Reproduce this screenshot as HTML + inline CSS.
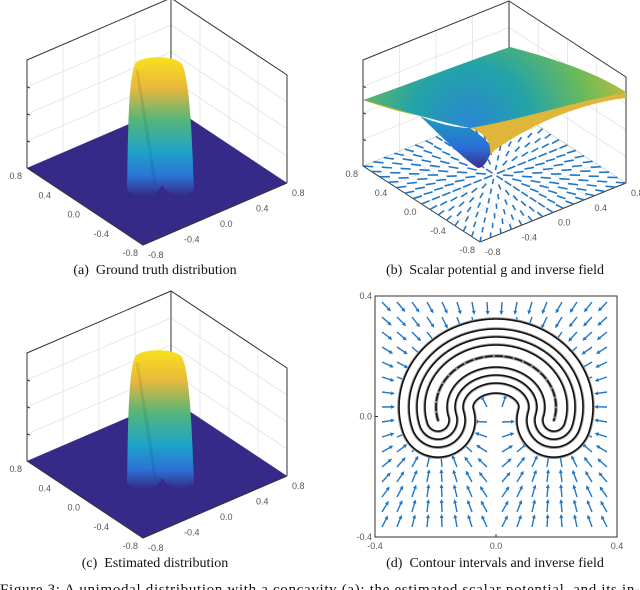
<!DOCTYPE html>
<html><head><meta charset="utf-8"><style>
body{margin:0;background:#fff;width:640px;height:590px;overflow:hidden}
svg{display:block}
.tk{font:9px "Liberation Sans",sans-serif;fill:#555}
.cap{font:14px "Liberation Serif",serif;fill:#111}
</style></head><body>
<svg id="fig" width="640" height="590">
<defs>
<linearGradient id="peak" x1="0" y1="0" x2="0" y2="1">
<stop offset="0" stop-color="#f8e11c"/><stop offset="0.22" stop-color="#e9b83c"/>
<stop offset="0.45" stop-color="#55b67a"/><stop offset="0.68" stop-color="#1ea4c8"/>
<stop offset="0.86" stop-color="#2b73d6"/><stop offset="1" stop-color="#352a87"/></linearGradient>
<radialGradient id="sheet" cx="470" cy="125" r="170" gradientUnits="userSpaceOnUse">
<stop offset="0" stop-color="#2b86d4"/><stop offset="0.35" stop-color="#22a3a8"/>
<stop offset="0.7" stop-color="#6cba5a"/><stop offset="1" stop-color="#c9bf3a"/></radialGradient>
<linearGradient id="cone" x1="0" y1="0" x2="0" y2="1">
<stop offset="0" stop-color="#1d9dbf"/><stop offset="0.6" stop-color="#2a6fd6"/><stop offset="1" stop-color="#3b2e8e"/></linearGradient>
<clipPath id="dclip"><rect x="375" y="296" width="242" height="241"/></clipPath>
</defs>
<g id="pa"></g>
<g id="pb"></g>
<g id="pc"></g>
<g id="pd"></g>
<text class="cap" x="155" y="274" text-anchor="middle" xml:space="preserve">(a)  Ground truth distribution</text>
<text class="cap" x="495" y="274" text-anchor="middle" xml:space="preserve">(b)  Scalar potential g and inverse field</text>
<text class="cap" x="155" y="567" text-anchor="middle" xml:space="preserve">(c)  Estimated distribution</text>
<text class="cap" x="495" y="567" text-anchor="middle" xml:space="preserve">(d)  Contour intervals and inverse field</text>
<text x="0" y="594" textLength="640" lengthAdjust="spacing" style="font:15px 'Liberation Serif',serif;fill:#111">Figure 3:  A unimodal distribution with a concavity (a); the estimated scalar potential, and its in-</text>
</svg>
<script>
const NS="http://www.w3.org/2000/svg";
const xTickLabels=["-0.8","-0.4","0.0","0.4","0.8"];
const dTickLabels=["-0.4","0.0","0.4"];
const contourLevels=[37,27,19,11];
const horseshoe={cx:496,cy:407,rx:60,ry:51,t0:195,t1:-15};
function el(tag,attrs,parent){const e=document.createElementNS(NS,tag);for(const k in attrs)e.setAttribute(k,attrs[k]);parent.appendChild(e);return e;}
function box3d(g,o){
 const F=o.front,R=o.right,L=o.left,B=[L[0]+R[0]-F[0],L[1]+R[1]-F[1]],H=o.h;
 for(let i=0;i<=4;i++){const f=i/4;
  const p=[L[0]+(B[0]-L[0])*f,L[1]+(B[1]-L[1])*f],q=[B[0]+(R[0]-B[0])*f,B[1]+(R[1]-B[1])*f];
  el("line",{x1:p[0],y1:p[1],x2:p[0],y2:p[1]-H,stroke:"#e3e3e3","stroke-width":0.8},g);
  el("line",{x1:q[0],y1:q[1],x2:q[0],y2:q[1]-H,stroke:"#e3e3e3","stroke-width":0.8},g);
  const z=H*f;
  el("polyline",{points:`${L[0]},${L[1]-z} ${B[0]},${B[1]-z} ${R[0]},${R[1]-z}`,fill:"none",stroke:"#e3e3e3","stroke-width":0.8},g);
 }
 el("polyline",{points:`${L[0]},${L[1]} ${L[0]},${L[1]-H} ${B[0]},${B[1]-H} ${R[0]},${R[1]-H} ${R[0]},${R[1]}`,fill:"none",stroke:"#333","stroke-width":1},g);
 el("line",{x1:B[0],y1:B[1]-H,x2:B[0],y2:B[1],stroke:"#333","stroke-width":1},g);
 for(let i=0;i<4;i++)el("line",{x1:L[0],y1:L[1]-H*i/4,x2:L[0]+3,y2:L[1]-H*i/4+1,stroke:"#333"},g);
 if(o.floor){const fl=el("polygon",{points:`${F} ${R} ${B} ${L}`,fill:o.floor},g);}
 else{
  el("polygon",{points:`${F} ${R} ${B} ${L}`,fill:"none",stroke:"#aaa","stroke-width":0.6,"stroke-dasharray":"1.5 1.5"},g);
  for(let i=1;i<4;i++){const f=i/4;
   el("line",{x1:F[0]+(R[0]-F[0])*f,y1:F[1]+(R[1]-F[1])*f,x2:L[0]+(R[0]-F[0])*f,y2:L[1]+(R[1]-F[1])*f,stroke:"#bbb","stroke-width":0.6,"stroke-dasharray":"1.5 1.5"},g);
   el("line",{x1:F[0]+(L[0]-F[0])*f,y1:F[1]+(L[1]-F[1])*f,x2:R[0]+(L[0]-F[0])*f,y2:R[1]+(L[1]-F[1])*f,stroke:"#bbb","stroke-width":0.6,"stroke-dasharray":"1.5 1.5"},g);
  }
 }
 el("polyline",{points:`${L} ${F} ${R}`,fill:"none",stroke:"#333","stroke-width":1},g);
 xTickLabels.forEach((t,i)=>{const f=i/4;
  const a=[F[0]+(L[0]-F[0])*f,F[1]+(L[1]-F[1])*f];
  const tx=el("text",{class:"tk",x:a[0]-5,y:a[1]+11,"text-anchor":"end"},g);tx.textContent=t;
  
  const b=[F[0]+(R[0]-F[0])*f,F[1]+(R[1]-F[1])*f];
  const ty=el("text",{class:"tk",x:b[0]+5,y:b[1]+13},g);ty.textContent=t;
  
 });
 return {F,R,L,B};
}
function peak(g,dy){
 const p=el("path",{d:`M127 ${190+dy} C128 ${140+dy} 128 ${80+dy} 135 ${64+dy} C140 ${55+dy} 175 ${55+dy} 182 ${64+dy} C190 ${80+dy} 192 ${140+dy} 194 ${190+dy} C185 ${198+dy} 170 ${198+dy} 162 ${185+dy} C158 ${196+dy} 140 ${200+dy} 127 ${190+dy}Z`,fill:"url(#peak)"},g);
 
 el("path",{d:`M137 ${70+dy} C142 ${100+dy} 150 ${150+dy} 155 ${185+dy}`,stroke:"#000","stroke-opacity":0.08,"stroke-width":3,fill:"none"},g);
}
[["pa",0],["pc",293]].forEach(([id,dy])=>{
 const g=document.getElementById(id);
 box3d(g,{front:[143,245+dy],right:[287,183+dy],left:[27,168+dy],h:108,floor:"#352a87"});
 peak(g,dy);
});
(function(){
 const g=document.getElementById("pb");
 const c=box3d(g,{front:[480,242],right:[626,183],left:[363,166],h:106});
 const N=14;
 for(let i=0;i<=N;i++)for(let j=0;j<=N;j++){
  const u=i/N,v=j/N;const du=0.5-u,dv=0.5-v;const d=Math.hypot(du,dv);if(d<0.04)continue;
  const s=0.055/d;
  const P=(a,b)=>[c.F[0]+(c.R[0]-c.F[0])*a+(c.L[0]-c.F[0])*b,c.F[1]+(c.R[1]-c.F[1])*a+(c.L[1]-c.F[1])*b];
  const p0=P(u,v),p1=P(u+du*s,v+dv*s);
  const a=el("line",{x1:p0[0],y1:p0[1],x2:p1[0],y2:p1[1],stroke:"#1f77c8","stroke-width":1.6},g);
  
 }
 const s=el("path",{d:"M363,100 C420,80 470,60 510,47 C560,60 600,75 626,92 L626,98 C600,100 560,108 520,120 C500,128 480,130 470,128 C440,122 400,110 363,100Z",fill:"url(#sheet)"},g);
 
 el("path",{d:"M420,116 C440,125 460,128 470,128 C485,138 492,145 492,150 C488,160 484,168 478,168 C465,160 445,140 420,116Z",fill:"url(#cone)"},g);
 el("path",{d:"M470,128 C520,120 580,100 626,93 L626,98 C590,102 540,118 495,150 L490,155 C492,140 482,132 470,128Z",fill:"#e0b63a"},g);
 el("path",{d:"M363,100 C380,104 400,110 420,116 C400,112 380,106 363,100Z",fill:"#a8b83c"},g);
})();
(function(){
 const g=document.getElementById("pd");
 const X0=375,X1=617,Y0=296,Y1=537;
 const xs=v=>X0+(v+0.4)/0.8*(X1-X0), ys=v=>Y1-(v+0.4)/0.8*(Y1-Y0);
 const pts=[];
 for(let k=0;k<=80;k++){const t=(horseshoe.t0+(horseshoe.t1-horseshoe.t0)*k/80)*Math.PI/180;
  pts.push([horseshoe.cx+horseshoe.rx*Math.cos(t),horseshoe.cy-horseshoe.ry*Math.sin(t)]);}
 const cl=document.createElementNS(NS,"g");cl.setAttribute("clip-path","url(#dclip)");g.appendChild(cl);
 const outer=contourLevels[0];
 for(let i=0;i<16;i++)for(let j=0;j<16;j++){
  const x=382+15*i,y=302+15*j;let best=1e9,bp=null;
  pts.forEach(p=>{const d=Math.hypot(p[0]-x,p[1]-y);if(d<best){best=d;bp=p;}});
  if(best<outer+4)continue;
  const ux=(bp[0]-x)/best,uy=(bp[1]-y)/best,L=11;
  const x2=x+ux*L,y2=y+uy*L;
  const a=el("line",{x1:x,y1:y,x2:x2,y2:y2,stroke:"#1f77c8","stroke-width":1.4},cl);
  
  el("polygon",{points:`${x2+ux*2},${y2+uy*2} ${x2-ux*2-uy*2},${y2-uy*2+ux*2} ${x2-ux*2+uy*2},${y2-uy*2-ux*2}`,fill:"#1f77c8"},cl);
 }
 const d="M"+pts.map(p=>p.join(",")).join(" L");
 contourLevels.forEach((w,i)=>{
  el("path",{d,fill:"none",stroke:"#999","stroke-width":2*w+3.5,"stroke-linecap":"round","stroke-linejoin":"round"},g);
  const c=el("path",{d,fill:"none",stroke:"#111","stroke-width":2*w+1.6,"stroke-linecap":"round","stroke-linejoin":"round"},g);
  
  el("path",{d,fill:"none",stroke:"#fff","stroke-width":2*w-1.6,"stroke-linecap":"round","stroke-linejoin":"round"},g);
 });
 el("path",{d,fill:"none",stroke:"#999","stroke-width":3.5,"stroke-linecap":"round"},g);
 const cc=el("path",{d,fill:"none",stroke:"#111","stroke-width":1.6,"stroke-dasharray":"7 3","stroke-linecap":"round"},g);
 
 el("rect",{x:X0,y:Y0,width:X1-X0,height:Y1-Y0,fill:"none",stroke:"#333","stroke-width":1},g);
 const vals=[-0.4,0,0.4];
 dTickLabels.forEach((t,i)=>{
  const tx=el("text",{class:"tk",x:xs(vals[i]),y:Y1+12,"text-anchor":"middle"},g);tx.textContent=t;
  
  const ty=el("text",{class:"tk",x:X0-3,y:ys(vals[i])+3,"text-anchor":"end"},g);ty.textContent=t;
  
  el("line",{x1:xs(vals[i]),y1:Y1,x2:xs(vals[i]),y2:Y1-3,stroke:"#333"},g);
  el("line",{x1:X0,y1:ys(vals[i]),x2:X0+3,y2:ys(vals[i]),stroke:"#333"},g);
 });
})();
</script>
</body></html>
